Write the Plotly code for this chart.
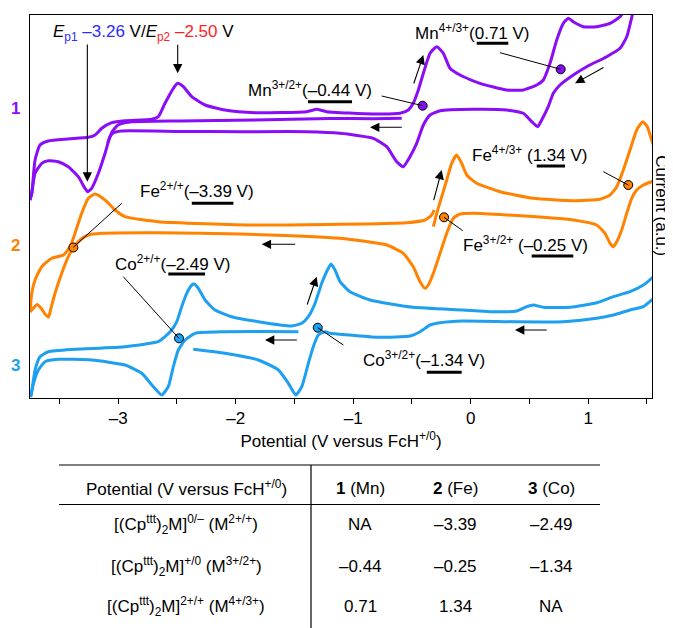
import plotly.graph_objects as go

FONT = "Liberation Sans, Arial, Helvetica, sans-serif"
MN_C = "#8A0DF7"
FE_C = "#FF8200"
CO_C = "#1E9FF0"
EP1_C = "#2B2BFF"
EP2_C = "#FF2222"

# ---------------- data (potential V vs FcH+/0, current a.u.) ----------------
# compound 1 (Mn)
mn_fwd_E = [-3.751, -3.736, -3.708, -3.666, -3.595, -3.425, -3.254, -3.197, -3.140, -3.055,
            -2.942, -2.715, -2.659, -2.602, -2.531, -2.494, -2.446, -2.374, -2.261, -2.091,
            -1.836, -1.396, -1.311, -1.226, -0.829, -0.602, -0.531, -0.489, -0.446, -0.403,
            -0.346, -0.289, -0.233, -0.176, -0.091, 0.079, 0.306, 0.448, 0.562, 0.618,
            0.675, 0.732, 0.788, 0.831, 0.873, 0.958, 1.072, 1.186, 1.271, 1.313]
mn_fwd_I = [198, 204.7, 238, 253, 257, 259, 260.7, 263, 269.7, 275.3,
            277.3, 278.7, 281.3, 294.7, 309.7, 314.7, 311.3, 301.3, 293, 288,
            285.3, 286.3, 288.7, 286.3, 284, 284.7, 288, 294.7, 308, 324.7,
            344.7, 351.3, 344.7, 329.7, 323, 314.7, 308, 308, 313, 318,
            334.7, 358, 374.7, 379.7, 376.3, 371.3, 371.3, 374.7, 381.3, 388]
mn_rev_E = [1.381, 1.328, 1.271, 1.157, 0.987, 0.873, 0.760, 0.703, 0.660, 0.604,
            0.570, 0.519, 0.448, 0.306, 0.022, -0.261, -0.346, -0.403, -0.460, -0.517,
            -0.574, -0.630, -0.715, -0.829, -1.112, -1.396, -1.963, -2.474, -2.970, -3.044,
            -3.070, -3.112, -3.169, -3.226, -3.260, -3.283, -3.340, -3.425, -3.510, -3.595,
            -3.651, -3.708, -3.736, -3.751]
mn_rev_I = [386, 361.3, 349.7, 341.3, 331.3, 323, 313, 304.7, 291.3, 278,
            271.3, 276.3, 284.7, 288, 288.7, 287.3, 283, 273, 254.7, 241.3,
            231.3, 236.3, 251.3, 259.7, 264.7, 266.3, 266.3, 266.5, 267, 265,
            261.3, 244.7, 224.7, 209.7, 206.3, 209.7, 221.3, 231.3, 236.3, 237.3,
            234.7, 224.7, 204.7, 198]
mn_start_E = [-0.587, -0.829, -1.197, -1.836, -2.474, -2.900, -3.002, -3.053, -3.090]
mn_start_I = [279.7, 279.3, 279.5, 278, 277, 276, 273, 266, 255]

# compound 2 (Fe)
fe_fwd1_E = [-3.751, -3.736, -3.708, -3.651, -3.566, -3.467, -3.410, -3.368, -3.311, -3.254,
             -3.197, -3.112, -3.027, -2.942, -2.659, -1.836, -1.112, -0.545, -0.389, -0.332, -0.312]
fe_fwd1_I = [86, 104.7, 118, 131.3, 139.7, 143, 151.3, 164.7, 184.7, 199.7,
             204, 198, 188, 181.3, 176.3, 173, 173.7, 175.3, 178, 183, 188]
fe_fwd2_E = [-0.318, -0.289, -0.247, -0.204, -0.162, -0.119, -0.077, -0.034, 0.051, 0.249,
             0.533, 0.873, 1.100, 1.186, 1.243, 1.299, 1.356, 1.413, 1.464, 1.503, 1.540, 1.577]
fe_fwd2_I = [171.3, 184.7, 201.3, 218, 234.7, 243, 234.7, 223, 214.7, 206.3,
             199.7, 197.3, 198.7, 203, 211.3, 228, 248, 268, 276.3, 271.3, 258, 246]
fe_rev_E = [1.577, 1.540, 1.469, 1.413, 1.370, 1.328, 1.285, 1.243, 1.214, 1.186,
            1.143, 1.072, 0.873, 0.306, 0.022, -0.091, -0.148, -0.204, -0.261, -0.318,
            -0.361, -0.389, -0.431, -0.489, -0.574, -0.715, -1.112, -1.963, -2.659, -3.140,
            -3.254, -3.325, -3.382, -3.425, -3.481, -3.538, -3.572, -3.593, -3.623, -3.651,
            -3.691, -3.721, -3.751]
fe_rev_I = [218, 216.3, 213, 208, 199.7, 184.7, 168, 156.3, 151.3, 154.7,
            164.7, 173, 178, 183, 184.7, 184, 179.7, 164.7, 144.7, 124.7,
            113, 109.7, 116.3, 131.3, 144.7, 153, 159.7, 164, 165.3, 164.7,
            163, 158, 150.7, 141.3, 124.7, 104.7, 90, 81, 84, 89,
            93.5, 90, 86]

# compound 3 (Co)
co_a_E = [-1.467, -1.793, -2.091, -2.346, -2.431, -2.489, -2.531, -2.574, -2.630, -2.701,
          -2.800, -2.942, -3.226, -3.510, -3.623, -3.680, -3.725, -3.746]
co_a_I = [66.3, 66.5, 66.3, 64.7, 58, 48, 31.3, 11.3, 3, 11.3,
          24.7, 33, 38, 38.7, 36.3, 28, 13, 1]
co_b_E = [-3.746, -3.736, -3.708, -3.666, -3.595, -3.368, -2.942, -2.659, -2.602, -2.545,
          -2.502, -2.460, -2.417, -2.374, -2.352, -2.318, -2.261, -2.176, -2.034, -1.808,
          -1.523, -1.438, -1.382, -1.325, -1.268, -1.212, -1.189, -1.155, -1.112, -1.027,
          -0.857, -0.489, -0.063, 0.164, 0.391, 0.477, 0.533, 0.618, 0.845, 1.072,
          1.214, 1.356, 1.469, 1.540, 1.577]
co_b_I = [1, 6.3, 28, 41.3, 46.3, 48.7, 51.3, 56.3, 61.3, 68,
          76.3, 91.3, 104.7, 113, 114, 109.7, 98, 88, 81.3, 76.3,
          72, 74.7, 81.3, 94.7, 114.7, 129.7, 134, 128, 116.3, 106.3,
          98, 90.7, 88, 86.3, 87, 91.3, 93, 90.7, 90.7, 95.3,
          101.3, 106.3, 113, 119.7, 124]
co_c_E = [1.577, 1.540, 1.469, 1.356, 1.214, 1.072, 0.788, 0.363, -0.063, -0.261,
          -0.346, -0.431, -0.517, -0.772, -1.027, -1.197, -1.240, -1.297, -1.340, -1.382,
          -1.438, -1.489, -1.552, -1.637, -1.808, -2.091, -2.361]
co_c_I = [101, 98, 91.3, 88, 83, 79.7, 76.3, 76.3, 77, 75.3,
          73, 66.3, 62, 60.7, 63, 64.7, 66.3, 63, 51.3, 34.7,
          11.3, 3, 14.7, 28, 38, 44.7, 48.7]

# half-wave potential markers
mn_mark_E = [-0.409, 0.766]
mn_mark_I = [292.3, 328.7]
fe_mark_E = [-3.382, -0.227, 1.341]
fe_mark_I = [150.5, 180.7, 213]
co_mark_E = [-2.483, -1.302]
co_mark_I = [59.7, 70.3]

tick_vals = [-3.5, -3, -2.5, -2, -1.5, -1, -0.5, 0, 0.5, 1, 1.5]
tick_text = ["", "–3", "", "–2", "", "–1", "", "0", "", "1", ""]

table_header = ["Potential (V versus FcH<sup>+/0</sup>)", "<b>1</b> (Mn)", "<b>2</b> (Fe)", "<b>3</b> (Co)"]
table_rows = [
    ["[(Cp<sup>ttt</sup>)<sub>2</sub>M]<sup>0/–</sup> (M<sup>2+/+</sup>)", "NA", "–3.39", "–2.49"],
    ["[(Cp<sup>ttt</sup>)<sub>2</sub>M]<sup>+/0</sup> (M<sup>3+/2+</sup>)", "–0.44", "–0.25", "–1.34"],
    ["[(Cp<sup>ttt</sup>)<sub>2</sub>M]<sup>2+/+</sup> (M<sup>4+/3+</sup>)", "0.71", "1.34", "NA"],
]

# ---------------- figure ----------------
fig = go.Figure()

def curve(E, I, color):
    fig.add_trace(go.Scatter(x=E, y=I, mode="lines", line=dict(color=color, width=3, shape="spline", smoothing=0.5),
                             hoverinfo="skip", showlegend=False))

for E, I in [(mn_fwd_E, mn_fwd_I), (mn_rev_E, mn_rev_I), (mn_start_E, mn_start_I)]:
    curve(E, I, MN_C)
for E, I in [(fe_fwd1_E, fe_fwd1_I), (fe_fwd2_E, fe_fwd2_I), (fe_rev_E, fe_rev_I)]:
    curve(E, I, FE_C)
for E, I in [(co_a_E, co_a_I), (co_b_E, co_b_I), (co_c_E, co_c_I)]:
    curve(E, I, CO_C)

shapes = []
annotations = []

def line(x0, y0, x1, y1, w=1, ref="x"):
    yr = "y" if ref == "x" else "paper"
    shapes.append(dict(type="line", xref=ref, yref=yr, x0=x0, y0=y0, x1=x1, y1=y1,
                       line=dict(color="black", width=w)))

# leader lines to markers
for seg in [(0.249, 345.3, 0.766, 328.7), (-0.757, 302, -0.409, 292.3),
            (1.129, 226.3, 1.341, 213), (-0.227, 180.7, -0.068, 167.3),
            (-2.970, 194.7, -3.382, 150.7), (-2.957, 121.3, -2.483, 59.7),
            (-1.302, 70.3, -1.084, 53)]:
    line(*seg, w=1)

# markers
for E, I, c in [(mn_mark_E, mn_mark_I, MN_C), (fe_mark_E, fe_mark_I, FE_C), (co_mark_E, co_mark_I, CO_C)]:
    fig.add_trace(go.Scatter(x=E, y=I, mode="markers", marker=dict(size=9, color=c, line=dict(color="black", width=1)),
                             hoverinfo="skip", showlegend=False))

def label(x, y, text):
    annotations.append(dict(x=x - 0.015, y=y, xref="x", yref="y", text=text, showarrow=False,
                            xanchor="left", yanchor="middle", font=dict(size=17, color="black", family=FONT)))

label(-3.555, 365, "<i>E</i><sub><span style='color:%s'>p1</span></sub><span style='color:%s'> –3.26</span> V/"
      "<i>E</i><sub><span style='color:%s'>p2</span></sub><span style='color:%s'> –2.50</span> V" % (EP1_C, EP1_C, EP2_C, EP2_C))
label(-0.474, 366, "Mn<sup>4+/3+</sup>(0.71 V)")
label(-1.895, 309.5, "Mn<sup>3+/2+</sup>(–0.44 V)")
label(0.009, 244.5, "Fe<sup>4+/3+</sup> (1.34 V)")
label(-0.068, 154, "Fe<sup>3+/2+</sup> (–0.25 V)")
label(-2.814, 208, "Fe<sup>2+/+</sup>(–3.39 V)")
label(-3.027, 135.5, "Co<sup>2+/+</sup>(–2.49 V)")
label(-0.917, 39, "Co<sup>3+/2+</sup>(–1.34 V)")

# thick underline bars
for x0, x1, y in [(0.051, 0.320, 354.7), (-1.385, -1.010, 296.3), (0.562, 0.803, 232),
                  (0.519, 0.873, 142), (-2.374, -2.020, 194.7), (-2.574, -2.261, 124),
                  (-0.374, -0.077, 25.7)]:
    line(x0, y, x1, y, w=3)

# arrows (tail -> tip)
for tx, ty, hx, hy in [(-3.263, 355, -3.263, 216.3), (-2.494, 354.7, -2.494, 324.7),
                       (-0.489, 313, -0.403, 343), (1.143, 331.3, 0.888, 314.7),
                       (-0.574, 270.7, -0.857, 270.7), (-0.318, 196.3, -0.247, 228),
                       (-1.481, 153.7, -1.779, 153.7), (-1.396, 92, -1.311, 121.3),
                       (-1.467, 58, -1.751, 58), (0.660, 68, 0.377, 68)]:
    annotations.append(dict(x=hx, y=hy, ax=tx, ay=ty, xref="x", yref="y", axref="x", ayref="y",
                            text="", showarrow=True, arrowhead=2, arrowsize=1.7, arrowwidth=1.1,
                            arrowcolor="black", standoff=0, startstandoff=0))

# compound numbers
for txt, yp, c in [("1", 0.755, MN_C), ("2", 0.399, FE_C), ("3", 0.086, CO_C)]:
    annotations.append(dict(x=-0.024, y=yp, xref="paper", yref="paper", text="<b>%s</b>" % txt, showarrow=False,
                            xanchor="center", yanchor="middle", font=dict(size=17, color=c, family=FONT)))

# right axis label
annotations.append(dict(x=1.016, y=0.501, xref="paper", yref="paper", text="Current (a.u.)", showarrow=False,
                        textangle=90, xanchor="center", yanchor="middle", font=dict(size=17, color="black", family=FONT)))

# ---------------- table ----------------
def px_x(px):
    return (px - 30) / 622.0

def px_y(py):
    return (398 - py) / 383.0

line(px_x(59), px_y(465), px_x(600), px_y(465), w=1.2, ref="paper")
line(px_x(59), px_y(504.5), px_x(600), px_y(504.5), w=1.2, ref="paper")
line(px_x(311), px_y(465), px_x(311), px_y(630), w=1.2, ref="paper")

col_x = [186, 360, 455.5, 551]
row_y = [488.5, 524, 566.5, 606.5]
for r, row in enumerate([table_header] + table_rows):
    for c, txt in enumerate(row):
        annotations.append(dict(x=px_x(col_x[c]), y=px_y(row_y[r]), xref="paper", yref="paper", text=txt,
                                showarrow=False, xanchor="center", yanchor="middle",
                                font=dict(size=17, color="black", family=FONT)))

# page body has an 8 px margin: plot area spans page x 30..652, y 15..398
fig.update_layout(
    width=665, height=620,
    margin=dict(l=22, r=21, t=7, b=230),
    paper_bgcolor="white", plot_bgcolor="white",
    font=dict(family=FONT, size=17, color="black"),
    shapes=shapes, annotations=annotations,
    xaxis=dict(range=[-3.751, 1.543], tickvals=tick_vals, ticktext=tick_text, ticks="outside", ticklen=5,
               tickwidth=1, tickcolor="black", showline=True, linecolor="black", linewidth=1, mirror=True,
               showgrid=False, zeroline=False, tickfont=dict(size=17, family=FONT),
               title=dict(text="Potential (V versus FcH<sup>+/0</sup>)", standoff=7, font=dict(size=17, family=FONT))),
    yaxis=dict(range=[0, 383], showticklabels=False, ticks="", showline=True, linecolor="black", linewidth=1,
               mirror=True, showgrid=False, zeroline=False),
)

fig.write_html("out.html")
